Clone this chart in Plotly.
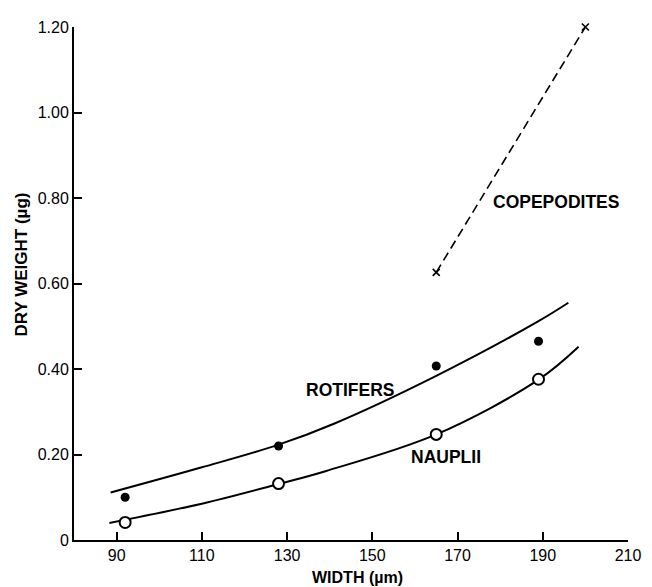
import plotly.graph_objects as go

# Observed data points
width_pts = [92, 128, 165, 189]
rotifer_pts = [0.10, 0.22, 0.407, 0.465]
nauplii_pts = [0.041, 0.132, 0.247, 0.376]

cope_x = [165, 200]
cope_y = [0.626, 1.20]

# Fitted curves
rot_curve_x = [88.6, 110, 128, 141, 165, 189, 196]
rot_curve_y = [0.111, 0.170, 0.223, 0.272, 0.384, 0.512, 0.555]
nau_curve_x = [88.3, 110, 128, 139, 165, 189, 198.4]
nau_curve_y = [0.040, 0.085, 0.131, 0.161, 0.247, 0.375, 0.452]

x_ticks = [90, 110, 130, 150, 170, 190, 210]
y_ticks = [0, 0.2, 0.4, 0.6, 0.8, 1.0, 1.2]
y_ticktext = ["0", "0.20", "0.40", "0.60", "0.80", "1.00", "1.20"]

labels = [("ROTIFERS", 144.7, 0.350), ("NAUPLII", 167.3, 0.194), ("COPEPODITES", 193.2, 0.790)]

FONT = "Liberation Sans, Arial, Helvetica, sans-serif"

fig = go.Figure()
fig.add_trace(go.Scatter(x=rot_curve_x, y=rot_curve_y, mode="lines",
                         line=dict(color="black", width=2, shape="spline"), cliponaxis=False))
fig.add_trace(go.Scatter(x=nau_curve_x, y=nau_curve_y, mode="lines",
                         line=dict(color="black", width=2, shape="spline"), cliponaxis=False))
fig.add_trace(go.Scatter(x=cope_x, y=cope_y, mode="lines+markers",
                         line=dict(color="black", width=1.6, dash="9px,5px"),
                         marker=dict(symbol="x-thin", size=7, line=dict(color="black", width=1.6)),
                         cliponaxis=False))
fig.add_trace(go.Scatter(x=width_pts, y=rotifer_pts, mode="markers",
                         marker=dict(symbol="circle", size=9, color="black"), cliponaxis=False))
fig.add_trace(go.Scatter(x=width_pts, y=nauplii_pts, mode="markers",
                         marker=dict(symbol="circle", size=11, color="white",
                                     line=dict(color="black", width=2)), cliponaxis=False))

for text, lx, ly in labels:
    fig.add_annotation(x=lx, y=ly, text=f"<b>{text}</b>", showarrow=False,
                       font=dict(family=FONT, size=17.5, color="black"))

fig.add_annotation(xref="paper", yref="paper", x=0.5115, y=-0.073, xanchor="center", yanchor="middle",
                   text="<b>WIDTH (µm)</b>", showarrow=False,
                   font=dict(family=FONT, size=16, color="black"))
fig.add_annotation(xref="paper", yref="paper", x=-0.094, y=0.537, xanchor="center", yanchor="middle",
                   text="<b>DRY WEIGHT (µg)</b>", showarrow=False, textangle=-90,
                   font=dict(family=FONT, size=17, color="black"))

fig.update_layout(
    width=644, height=579,
    margin=dict(l=66, r=15, t=11, b=47),
    paper_bgcolor="white", plot_bgcolor="white",
    showlegend=False,
    font=dict(family=FONT, size=16, color="black"),
)
fig.update_xaxes(range=[80, 210], tickvals=x_ticks, ticks="inside", ticklen=8, tickwidth=1.5,
                 tickcolor="black", showline=True, linecolor="black", linewidth=2,
                 showgrid=False, zeroline=False, tickfont=dict(size=16))
fig.update_yaxes(range=[0, 1.2], tickvals=y_ticks, ticktext=y_ticktext, ticks="inside", ticklen=8,
                 tickwidth=1.5, tickcolor="black", showline=True, linecolor="black", linewidth=2,
                 showgrid=False, zeroline=False, tickfont=dict(size=16))

fig.write_html("out.html")
